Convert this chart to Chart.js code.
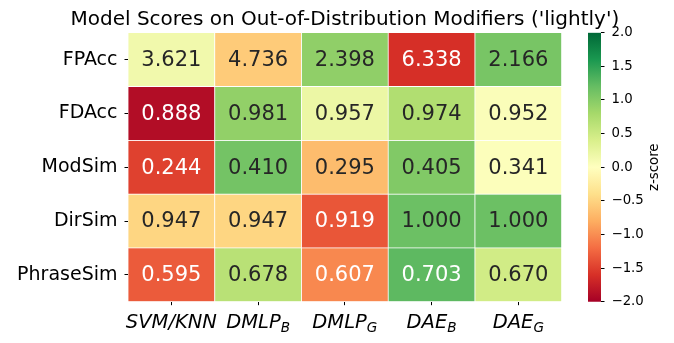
<!DOCTYPE html>
<html>
<head>
<meta charset="utf-8">
<script src="https://cdn.jsdelivr.net/npm/chart.js@4.4.1/dist/chart.umd.min.js"></script>
<style>
  body { margin: 0; background: #fff; }
  #wrap { position: relative; width: 674px; height: 343px; }
  #heat { position: absolute; left: 0; top: 0; }
  #cbar { position: absolute; left: 560px; top: 0; }
</style>
</head>
<body>
<div id="wrap">
  <canvas id="heat" width="674" height="343"></canvas>
  <canvas id="cbar" width="114" height="343"></canvas>
</div>
<script>
/* Heatmap of model scores, coloured by per-row z-score (RdYlGn, -2..2). */

var TITLE = "Model Scores on Out-of-Distribution Modifiers ('lightly')";
var rowLabels = ["FPAcc", "FDAcc", "ModSim", "DirSim", "PhraseSim"];
var colMain = ["SVM/KNN", "DMLP", "DMLP", "DAE", "DAE"];
var colSub = ["", "B", "G", "B", "G"];

// shown values
var fpacc = [3.621, 4.736, 2.398, 6.338, 2.166];
var fdacc = [0.888, 0.981, 0.957, 0.974, 0.952];
var modsim = [0.244, 0.410, 0.295, 0.405, 0.341];
var dirsim = [0.947, 0.947, 0.919, 1.000, 1.000];
var phrasesim = [0.595, 0.678, 0.607, 0.703, 0.670];

// z-scores that set the cell colours
var fpaccZ = [0.149, -0.571, 0.940, -1.607, 1.089];
var fdaccZ = [-1.893, 0.928, 0.200, 0.716, 0.049];
var modsimZ = [-1.489, 1.113, -0.689, 1.034, 0.031];
var dirsimZ = [-0.484, -0.484, -1.354, 1.161, 1.161];
var phrasesimZ = [-1.320, 0.651, -1.035, 1.244, 0.461];

var cbarRange = [-2, 2];
var cbarStep = 0.5;

var rowValues = [fpacc, fdacc, modsim, dirsim, phrasesim];
var rowZ = [fpaccZ, fdaccZ, modsimZ, dirsimZ, phrasesimZ];

var FONT = "'DejaVu Sans', Verdana, sans-serif";
Chart.defaults.font.family = FONT;
Chart.defaults.color = "#000";

// matplotlib RdYlGn control colours
var RDYLGN = ["#a50026", "#d73027", "#f46d43", "#fdae61", "#fee08b", "#ffffbf",
              "#d9ef8b", "#a6d96a", "#66bd63", "#1a9850", "#006837"];

function hexRgb(h) {
  return [parseInt(h.substr(1, 2), 16), parseInt(h.substr(3, 2), 16), parseInt(h.substr(5, 2), 16)];
}

function cmapRgb(z) {
  var t = (z - cbarRange[0]) / (cbarRange[1] - cbarRange[0]);
  t = Math.max(0, Math.min(1, t));
  var f = t * (RDYLGN.length - 1);
  var i = Math.min(Math.floor(f), RDYLGN.length - 2);
  var k = f - i;
  var a = hexRgb(RDYLGN[i]), b = hexRgb(RDYLGN[i + 1]);
  return [0, 1, 2].map(function (j) { return a[j] + (b[j] - a[j]) * k; });
}

function cmap(z) {
  var c = cmapRgb(z);
  return "rgb(" + c.map(Math.round).join(",") + ")";
}

// seaborn picks dark or white annotation text from the cell luminance
function textColor(z) {
  var c = cmapRgb(z).map(function (v) {
    v = v / 255;
    return v <= 0.03928 ? v / 12.92 : Math.pow((v + 0.055) / 1.055, 2.4);
  });
  var lum = 0.2126 * c[0] + 0.7152 * c[1] + 0.0722 * c[2];
  return lum > 0.408 ? "#262626" : "#ffffff";
}

var cellText = {
  id: "cellText",
  afterDatasetsDraw: function (chart) {
    var ctx = chart.ctx;
    ctx.save();
    ctx.font = "21px " + FONT;
    ctx.textAlign = "center";
    ctx.textBaseline = "middle";
    chart.data.datasets.forEach(function (ds, r) {
      chart.getDatasetMeta(r).data.forEach(function (bar, c) {
        var p = bar.getCenterPoint();
        ctx.fillStyle = textColor(rowZ[r][c]);
        ctx.fillText(rowValues[r][c].toFixed(3), p.x, p.y + 1);
      });
    });
    ctx.restore();
  }
};

// title centred over the heatmap, like an axes title
var axesTitle = {
  id: "axesTitle",
  afterDraw: function (chart) {
    var ctx = chart.ctx, a = chart.chartArea;
    ctx.save();
    ctx.font = "20px " + FONT;
    ctx.fillStyle = "#000";
    ctx.textAlign = "center";
    ctx.textBaseline = "alphabetic";
    ctx.fillText(TITLE, (a.left + a.right) / 2, 25);
    ctx.restore();
  }
};

// x labels are math-style: italic with a subscript
var mathLabels = {
  id: "mathLabels",
  afterDraw: function (chart) {
    var ctx = chart.ctx, xs = chart.scales.x;
    var base = 328, size = 19.5, subSize = 13.6;
    ctx.save();
    ctx.fillStyle = "#000";
    ctx.textBaseline = "alphabetic";
    ctx.textAlign = "left";
    colMain.forEach(function (m, c) {
      ctx.font = "italic " + size + "px " + FONT;
      var w1 = ctx.measureText(m).width;
      ctx.font = "italic " + subSize + "px " + FONT;
      var w2 = colSub[c] ? ctx.measureText(colSub[c]).width : 0;
      var x0 = xs.getPixelForValue(c) - (w1 + w2) / 2;
      ctx.font = "italic " + size + "px " + FONT;
      ctx.fillText(m, x0, base);
      if (colSub[c]) {
        ctx.font = "italic " + subSize + "px " + FONT;
        ctx.fillText(colSub[c], x0 + w1, base + 3.5);
      }
    });
    ctx.restore();
  }
};

new Chart(document.getElementById("heat"), {
  type: "bar",
  data: {
    labels: colMain.map(function (m, c) { return m + colSub[c]; }),
    datasets: rowLabels.map(function (name, r) {
      return {
        label: name,
        data: rowValues[r].map(function () { return 1; }),
        backgroundColor: rowZ[r].map(cmap),
        borderColor: "#ffffff",
        borderWidth: 0.75,
        borderSkipped: false,
        barPercentage: 1,
        categoryPercentage: 1
      };
    })
  },
  options: {
    responsive: false,
    animation: false,
    events: [],
    layout: { padding: { left: 0, right: 112.3, top: 32.7, bottom: 0 } },
    plugins: {
      legend: { display: false },
      tooltip: { enabled: false },
      title: { display: false }
    },
    scales: {
      x: {
        stacked: true,
        border: { display: false },
        grid: { drawOnChartArea: false, offset: false, tickLength: 3.5, color: "#000", lineWidth: 1 },
        ticks: { display: false },
        afterFit: function (s) { s.height = 41.3; }
      },
      y: {
        stacked: true,
        reverse: true,
        min: 0,
        max: rowLabels.length,
        border: { display: false },
        grid: { drawOnChartArea: false, tickLength: 3.5, color: "#000", lineWidth: 1 },
        afterBuildTicks: function (s) {
          s.ticks = rowLabels.map(function (n, i) { return { value: i + 0.5 }; });
        },
        ticks: {
          color: "#000",
          padding: 7,
          font: { size: 19 },
          callback: function (v) { return rowLabels[Math.floor(v)]; }
        },
        afterFit: function (s) { s.width = 128; }
      }
    }
  },
  plugins: [cellText, mathLabels, axesTitle]
});

// colour bar
var cbarLabel = {
  id: "cbarLabel",
  afterDraw: function (chart) {
    var ctx = chart.ctx, a = chart.chartArea;
    ctx.save();
    ctx.font = "13.3px " + FONT;
    ctx.fillStyle = "#000";
    ctx.textAlign = "center";
    ctx.textBaseline = "middle";
    ctx.translate(95, (a.top + a.bottom) / 2);
    ctx.rotate(-Math.PI / 2);
    ctx.fillText("z-score", 0, 0);
    ctx.restore();
  }
};

new Chart(document.getElementById("cbar"), {
  type: "bar",
  data: {
    labels: [""],
    datasets: [{
      data: [cbarRange],
      barPercentage: 1,
      categoryPercentage: 1,
      borderWidth: 0,
      backgroundColor: function (c) {
        var a = c.chart.chartArea;
        if (!a) return "#ffffbf";
        var g = c.chart.ctx.createLinearGradient(0, a.bottom, 0, a.top);
        RDYLGN.forEach(function (col, i) { g.addColorStop(i / (RDYLGN.length - 1), col); });
        return g;
      }
    }]
  },
  options: {
    responsive: false,
    animation: false,
    events: [],
    layout: { padding: { left: 28, right: 0, top: 32.7, bottom: 41.3 } },
    plugins: { legend: { display: false }, tooltip: { enabled: false }, title: { display: false } },
    scales: {
      x: { display: false },
      y: {
        position: "right",
        min: cbarRange[0],
        max: cbarRange[1],
        border: { display: false },
        grid: { drawOnChartArea: false, tickLength: 3.5, color: "#000", lineWidth: 1 },
        ticks: {
          stepSize: cbarStep,
          color: "#000",
          padding: 7,
          font: { size: 13.3 },
          callback: function (v) { return (v < 0 ? "\u2212" : "") + Math.abs(v).toFixed(1); }
        },
        afterFit: function (s) { s.width = 73; }
      }
    }
  },
  plugins: [cbarLabel]
});
</script>
</body>
</html>
